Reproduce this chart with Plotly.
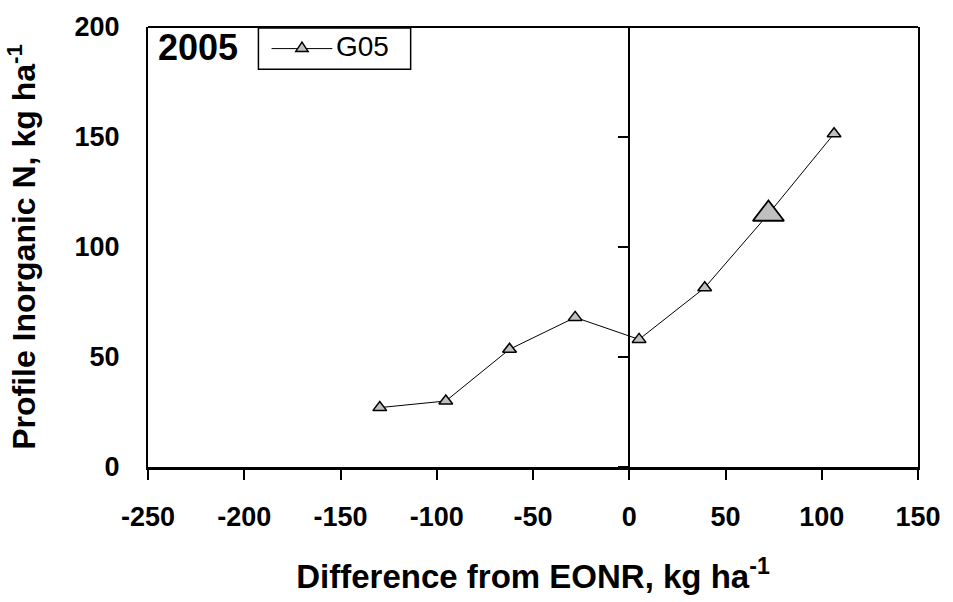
import plotly.graph_objects as go

# Profile inorganic N versus difference from the economic optimum N rate (2005, site G05)
diff_eonr = [-129.6, -95.3, -62.2, -28.1, 5.1, 39.2, 72.3, 106.4]
profile_n = [27.0, 30.0, 53.5, 68.0, 58.0, 81.5, 115.0, 151.5]
eonr_index = 6  # point at the economic optimum rate, drawn enlarged
series_name = "G05"
year_label = "2005"

x_ticks = [-250, -200, -150, -100, -50, 0, 50, 100, 150]
y_ticks = [0, 50, 100, 150, 200]

FONT = "Arial, Liberation Sans, sans-serif"
FILL = "#c0c0c0"

fig = go.Figure()
fig.add_trace(go.Scatter(
    x=diff_eonr, y=profile_n, mode="lines+markers", name=series_name,
    line=dict(color="black", width=1),
    marker=dict(symbol="triangle-up", size=12, color=FILL,
                line=dict(color="black", width=1.5)),
    showlegend=False,
))
fig.add_trace(go.Scatter(
    x=[diff_eonr[eonr_index]], y=[profile_n[eonr_index]], mode="markers",
    showlegend=False, hoverinfo="skip",
    marker=dict(symbol="triangle-up", size=27, color=FILL,
                line=dict(color="black", width=1.8)),
))
# invisible trace carrying the y axis drawn through x = 0
fig.add_trace(go.Scatter(x=[0], y=[0], yaxis="y2", mode="markers",
                         marker=dict(opacity=0), showlegend=False, hoverinfo="skip"))

# legend key box (paper coordinates)
lg_x0, lg_x1, lg_y0, lg_y1 = 0.1434, 0.3411, 0.9040, 0.9978
lg_mid = (lg_y0 + lg_y1) / 2
key_x0, key_x1 = 0.1605, 0.2394
key_c = (key_x0 + key_x1) / 2
tri_w, tri_h = 0.0080, 0.0140

shapes = [
    # top frame line
    dict(type="line", xref="paper", yref="paper", x0=0, x1=1, y0=1, y1=1,
         line=dict(color="black", width=2)),
    # legend box
    dict(type="rect", xref="paper", yref="paper", x0=lg_x0, x1=lg_x1, y0=lg_y0, y1=lg_y1,
         line=dict(color="black", width=1.5), fillcolor="white"),
    # legend line sample
    dict(type="line", xref="paper", yref="paper", x0=key_x0, x1=key_x1, y0=lg_mid, y1=lg_mid,
         line=dict(color="black", width=1)),
    # legend marker sample
    dict(type="path", xref="paper", yref="paper",
         path=(f"M{key_c - tri_w},{lg_mid - tri_h * 0.45} L{key_c + tri_w},{lg_mid - tri_h * 0.45} "
               f"L{key_c},{lg_mid + tri_h * 1.05} Z"),
         fillcolor=FILL, line=dict(color="black", width=1.5)),
]

fig.update_layout(
    width=953, height=602,
    margin=dict(l=148, r=31, t=21, b=133),
    paper_bgcolor="white", plot_bgcolor="white",
    font=dict(family=FONT, color="black"),
    showlegend=False,
    xaxis=dict(
        range=[-250, 150], tickvals=x_ticks, ticktext=[str(v) for v in x_ticks],
        showgrid=False, zeroline=False,
        showline=True, linecolor="black", linewidth=3,
        ticks="outside", ticklen=10, tickwidth=2, tickcolor="black",
        tickfont=dict(size=27, family=FONT, weight="bold"),
        ticklabelstandoff=14,
        title=dict(text="<b>Difference from EONR, kg ha<sup>-1</sup></b>",
                   font=dict(size=33, family=FONT), standoff=34),
    ),
    yaxis=dict(
        range=[0, 200], tickvals=y_ticks, ticktext=[str(v) for v in y_ticks],
        showgrid=False, zeroline=False,
        showline=True, linecolor="black", linewidth=2, mirror=True,
        ticks="", tickfont=dict(size=27, family=FONT, weight="bold"),
        ticklabelstandoff=21,
        title=dict(text="<b>Profile Inorganic N, kg ha<sup>-1</sup></b>",
                   font=dict(size=32, family=FONT), standoff=29),
    ),
    yaxis2=dict(
        range=[0, 200], tickvals=y_ticks, showticklabels=False,
        overlaying="y", anchor="free", position=0.625, side="left",
        showgrid=False, zeroline=False,
        showline=True, linecolor="black", linewidth=2,
        ticks="outside", ticklen=10, tickwidth=2, tickcolor="black",
    ),
    shapes=shapes,
    annotations=[
        dict(text=f"<b>{year_label}</b>", xref="paper", yref="paper", x=0.010, y=0.953,
             xanchor="left", yanchor="middle", showarrow=False,
             font=dict(size=36, family=FONT)),
        dict(text=series_name, xref="paper", yref="paper", x=key_x1 + 0.002, y=lg_mid + 0.004,
             xanchor="left", yanchor="middle", showarrow=False,
             font=dict(size=28, family=FONT)),
    ],
)

fig.write_html("out.html")
